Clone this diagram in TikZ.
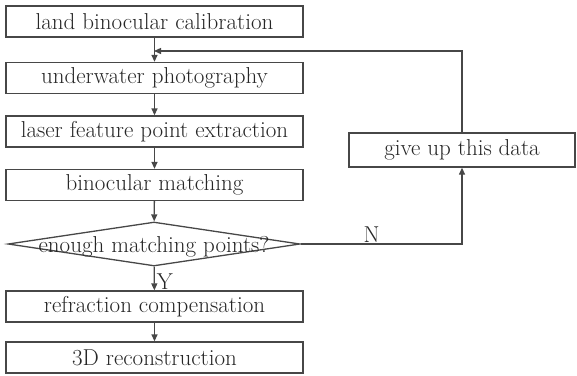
\documentclass[tikz,border=0pt]{standalone}
\usetikzlibrary{arrows.meta,shapes.geometric}
\begin{document}
\begin{tikzpicture}[x=1pt,y=-1pt,
  line/.style={draw=black!72,line width=1.3pt},
  arr/.style={line,-{Triangle[length=7pt,width=6pt]}},
  txt/.style={font=\fontsize{23}{26}\selectfont,text=black!85},
  box/.style={line,rectangle,minimum width=297pt,minimum height=31pt,inner sep=0pt,txt},
  gbox/.style={box,minimum width=226pt,minimum height=34pt},
  lbl/.style={txt}]
\useasboundingbox (0,0) rectangle (577,375);
\node[box] (b1) at (154.5,21.5) {land binocular calibration};
\node[box] (b2) at (154.5,78) {underwater photography};
\node[box] (b3) at (154.5,131.5) {laser feature point extraction};
\node[box] (b4) at (154.5,185) {binocular matching};
\node[line,diamond,aspect=6.6,minimum width=292pt,minimum height=44pt,inner sep=0pt] (d) at (154,244) {};
\node[lbl] at (154,247) {enough matching points?};
\node[box] (b5) at (154.5,306.5) {refraction compensation};
\node[box] (b6) at (154.5,357.5) {3D reconstruction};
\node[gbox] (g) at (462,150) {give up this data};
\coordinate (fb) at (154,51);
\draw[arr] (b1) -- (b2);
\draw[arr] (b2) -- (b3);
\draw[arr] (b3) -- (b4);
\draw[arr] (b4) -- (d);
\draw[arr] (d) -- node[lbl,right,pos=0.62,inner sep=2pt] {Y} (b5);
\draw[arr] (b5) -- (b6);
\draw[arr] (d.east) -| node[lbl,pos=0.22,above,inner sep=1pt] {N} (g.south);
\draw[arr] (g.north) |- (fb);
\end{tikzpicture}
\end{document}
